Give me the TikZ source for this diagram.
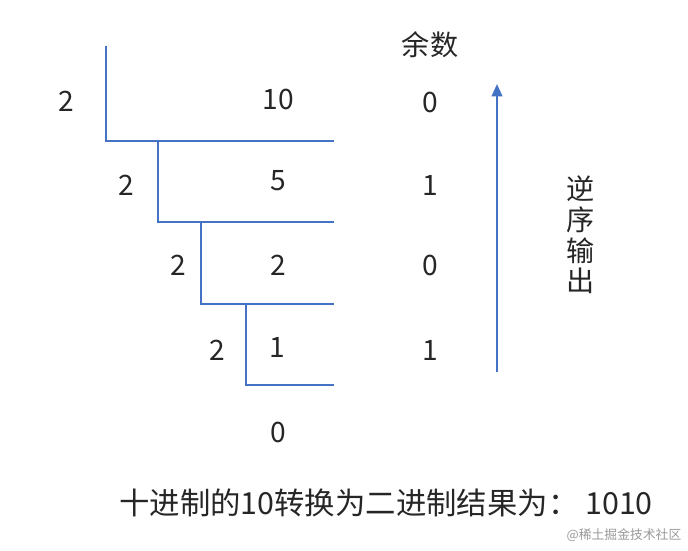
\documentclass[tikz,border=0pt]{standalone}
\usepackage{fontspec}
\setmainfont{Noto Sans CJK SC}
\usepackage{tikz}
\usetikzlibrary{arrows.meta, positioning}

\definecolor{lineblue}{HTML}{4472C4}

\begin{document}
\begin{tikzpicture}[x=0.02cm, y=-0.02cm,
  every node/.style={font=\fontsize{16}{19}\selectfont, text=black!85, inner sep=0pt},
  bracket/.style={draw=lineblue, line width=1.2pt}]
\useasboundingbox (0,0) rectangle (688,550);

% division brackets
\draw[bracket] (106,46) -- (106,141) -- (334,141);
\draw[bracket] (158,141) -- (158,222) -- (334,222);
\draw[bracket] (201,222) -- (201,304) -- (334,304);
\draw[bracket] (246,304) -- (246,385) -- (334,385);

% divisors
\node at (66,101) (div1) {2};
\node at (126,185) (div2) {2};
\node at (178,265) (div3) {2};
\node at (217,350) (div4) {2};

% quotients
\node at (278,99) (quot1) {10};
\node at (278,181) (quot2) {5};
\node at (278,265) (quot3) {2};
\node at (277,347) (quot4) {1};
\node at (278,432) (quot5) {0};

% remainders
\node at (430,45) (remhead) {余数};
\node at (430,102) (rem1) {0};
\node at (430,185) (rem2) {1};
\node at (430,265) (rem3) {0};
\node at (430,350) (rem4) {1};

\coordinate (arrbot) at (497,372);
\coordinate (arrtop) at (497,84);
\draw[-{Triangle[length=7pt, width=6pt]}, draw=lineblue, fill=lineblue, line width=1.2pt]
  (arrbot) -- (arrtop);

\node at (581,235) (order) [align=center, font=\fontsize{16}{17.5}\selectfont] {逆\\序\\输\\出};

\node at (386,503) (result) [font=\fontsize{17.3}{20}\selectfont] {十进制的10转换为二进制结果为： 1010};
\node at (624,535) (mark) [font=\fontsize{7.3}{9}\selectfont, text=black!40] {@稀土掘金技术社区};
\end{tikzpicture}
\end{document}
